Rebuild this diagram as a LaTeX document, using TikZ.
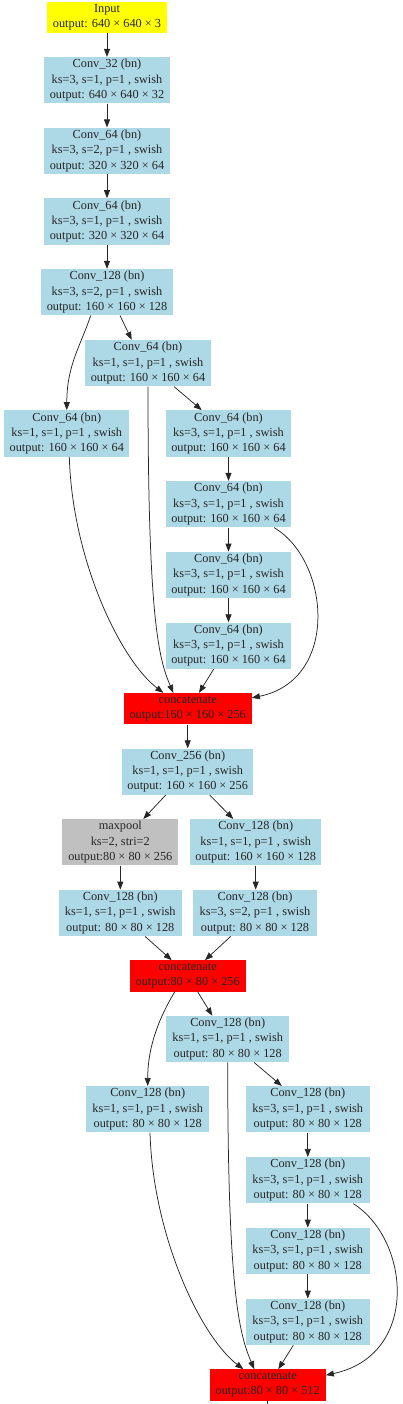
\documentclass[tikz,border=0pt]{standalone}
\usepackage{fontspec}
\setmainfont{Liberation Serif}
\usetikzlibrary{arrows.meta}
\definecolor{lb}{HTML}{ADD8E6}
\definecolor{gr}{HTML}{C0C0C0}
\definecolor{yel}{HTML}{FFFF00}
\definecolor{rd}{HTML}{FF0000}
\begin{document}
\begin{tikzpicture}[x=1pt,y=-1pt,
 box/.style={fill=lb, inner sep=0pt, align=center, font=\fontsize{12.3}{15.3}\selectfont, text=black!85},
 tall/.style={minimum height=46.3pt},
 short/.style={minimum height=31.3pt},
 cat/.style={box, short, fill=rd, minimum width=#1},
 edge/.style={draw=black!85, line width=0.75pt, -{Triangle[length=8pt,width=6pt]}},
 stub/.style={draw=black!85, line width=0.75pt}]
\useasboundingbox (0,0) rectangle (403,1404);

\node[box,short,fill=yel,minimum width=119.4pt] (inp) at (107,17.2) {Input\\output: 640 × 640 × 3};
\node[box,tall,minimum width=125.4pt] (c32) at (107,80.2) {Conv\_32 (bn)\\ks=3, s=1, p=1 , swish\\output: 640 × 640 × 32};
\node[box,tall,minimum width=125.4pt] (c64a) at (107,150.8) {Conv\_64 (bn)\\ks=3, s=2, p=1 , swish\\output: 320 × 320 × 64};
\node[box,tall,minimum width=125.4pt] (c64b) at (107,221.5) {Conv\_64 (bn)\\ks=3, s=1, p=1 , swish\\output: 320 × 320 × 64};
\node[box,tall,minimum width=131.4pt] (c128) at (107,292.2) {Conv\_128 (bn)\\ks=3, s=2, p=1 , swish\\output: 160 × 160 × 128};
\node[box,tall,minimum width=125.4pt] (c64t) at (148,363.2) {Conv\_64 (bn)\\ks=1, s=1, p=1 , swish\\output: 160 × 160 × 64};
\node[box,tall,minimum width=125pt] (c64l) at (66.8,433.5) {Conv\_64 (bn)\\ks=1, s=1, p=1 , swish\\output: 160 × 160 × 64};
\node[box,tall,minimum width=125pt] (r1) at (228.5,433.5) {Conv\_64 (bn)\\ks=3, s=1, p=1 , swish\\output: 160 × 160 × 64};
\node[box,tall,minimum width=125pt] (r2) at (228.5,504.2) {Conv\_64 (bn)\\ks=3, s=1, p=1 , swish\\output: 160 × 160 × 64};
\node[box,tall,minimum width=125pt] (r3) at (228.5,575) {Conv\_64 (bn)\\ks=3, s=1, p=1 , swish\\output: 160 × 160 × 64};
\node[box,tall,minimum width=125pt] (r4) at (228.5,645.7) {Conv\_64 (bn)\\ks=3, s=1, p=1 , swish\\output: 160 × 160 × 64};
\node[cat=128pt] (cat1) at (187.7,708.7) {concatenate\\output:160 × 160 × 256};
\node[box,tall,minimum width=131.3pt] (c256) at (187.7,771.7) {Conv\_256 (bn)\\ks=1, s=1, p=1 , swish\\output: 160 × 160 × 256};
\node[box,tall,fill=gr,minimum width=116pt] (mp) at (120.3,842.3) {maxpool\\ks=2, stri=2\\output:80 × 80 × 256};
\node[box,tall,minimum width=131.3pt] (c128r1) at (255.7,842.3) {Conv\_128 (bn)\\ks=1, s=1, p=1 , swish\\output: 160 × 160 × 128};
\node[box,tall,minimum width=123.3pt] (c128l) at (120.3,913) {Conv\_128 (bn)\\ks=1, s=1, p=1 , swish\\output: 80 × 80 × 128};
\node[box,tall,minimum width=123.3pt] (c128r2) at (255,913) {Conv\_128 (bn)\\ks=3, s=2, p=1 , swish\\output: 80 × 80 × 128};
\node[cat=116pt] (cat2) at (187.7,976) {concatenate\\output:80 × 80 × 256};
\node[box,tall,minimum width=123.3pt] (c128t) at (227.7,1039) {Conv\_128 (bn)\\ks=1, s=1, p=1 , swish\\output: 80 × 80 × 128};
\node[box,tall,minimum width=123.3pt] (c128bl) at (147.7,1109.3) {Conv\_128 (bn)\\ks=1, s=1, p=1 , swish\\output: 80 × 80 × 128};
\node[box,tall,minimum width=123.7pt] (s1) at (307.8,1109.3) {Conv\_128 (bn)\\ks=3, s=1, p=1 , swish\\output: 80 × 80 × 128};
\node[box,tall,minimum width=123.7pt] (s2) at (307.8,1180.3) {Conv\_128 (bn)\\ks=3, s=1, p=1 , swish\\output: 80 × 80 × 128};
\node[box,tall,minimum width=123.7pt] (s3) at (307.8,1251) {Conv\_128 (bn)\\ks=3, s=1, p=1 , swish\\output: 80 × 80 × 128};
\node[box,tall,minimum width=123.7pt] (s4) at (307.8,1322) {Conv\_128 (bn)\\ks=3, s=1, p=1 , swish\\output: 80 × 80 × 128};
\node[cat=116pt] (cat3) at (267.7,1385) {concatenate\\output:80 × 80 × 512};
\coordinate (out) at (267.7,1420);

% edges
\draw[edge] (inp.south) -- (c32.north);
\draw[edge] (c32.south) -- (c64a.north);
\draw[edge] (c64a.south) -- (c64b.north);
\draw[edge] (c64b.south) -- (c128.north);
\draw[edge] ([xshift=-16.3pt]c128.south) .. controls +(-10,30) and +(0,-45) .. (c64l.north);
\draw[edge] ([xshift=13pt]c128.south) -- ([xshift=-16.3pt]c64t.north);
\draw[edge] ([xshift=26pt]c64t.south) -- ([xshift=-26.8pt]r1.north);
\draw[edge] (c64t.south) .. controls +(0,230) and +(-15,-35) .. ([xshift=-14.4pt]cat1.north);
\draw[edge] ([xshift=2.5pt]c64l.south) .. controls +(3,103) and +(-43,-33) .. ([xshift=-24.4pt]cat1.north);
\draw[edge] (r1.south) -- (r2.north);
\draw[edge] (r2.south) -- (r3.north);
\draw[edge] (r3.south) -- (r4.north);
\draw[edge] ([xshift=45.5pt]r2.south) .. controls +(56,33) and +(88,-18) .. ([yshift=-5pt]cat1.north east);
\draw[edge] ([xshift=-14.8pt]r4.south) -- ([xshift=11.3pt]cat1.north);
\draw[edge] (cat1.south) -- (c256.north);
\draw[edge] ([xshift=-22pt]c256.south) -- ([xshift=23pt]mp.north);
\draw[edge] ([xshift=22pt]c256.south) -- ([xshift=-22.4pt]c128r1.north);
\draw[edge] (mp.south) -- (c128l.north);
\draw[edge] (c128r1.south) -- (c128r1.south |- c128r2.north);
\draw[edge] ([xshift=24.7pt]c128l.south) -- ([xshift=-16pt]cat2.north);
\draw[edge] ([xshift=-24.3pt]c128r2.south) -- ([xshift=17.3pt]cat2.north);
\draw[edge] ([xshift=10pt]cat2.south) -- ([xshift=-15.4pt]c128t.north);
\draw[edge] ([xshift=-13pt]cat2.south) .. controls +(-15,25) and +(0,-40) .. (c128bl.north);
\draw[edge] ([xshift=26.3pt]c128t.south) -- ([xshift=-26pt]s1.north);
\draw[edge] (c128t.south) .. controls +(0,230) and +(-15,-35) .. ([xshift=-13.4pt]cat3.north);
\draw[edge] ([xshift=2.3pt]c128bl.south) .. controls +(3,103) and +(-43,-33) .. ([xshift=-24.4pt]cat3.north);
\draw[edge] (s1.south) -- (s2.north);
\draw[edge] (s2.south) -- (s3.north);
\draw[edge] (s3.south) -- (s4.north);
\draw[edge] ([xshift=45.5pt]s2.south) .. controls +(57,36) and +(94,-20) .. ([yshift=-6pt]cat3.north east);
\draw[edge] ([xshift=-14.5pt]s4.south) -- ([xshift=10.6pt]cat3.north);
\draw[stub] (cat3.south) -- (out);
\end{tikzpicture}
\end{document}
